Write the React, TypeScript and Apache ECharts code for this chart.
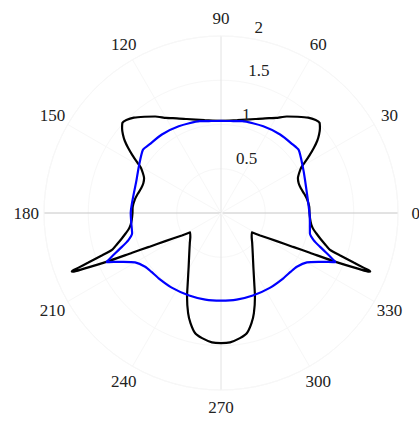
import { useEffect, useRef } from "react";
import * as echarts from "echarts";

// Polar frame geometry (pixels)
const CX = 221;
const CY = 213;
const R = 177;
const R_MAX = 2;

const angleTicks = [0, 30, 60, 90, 120, 150, 180, 210, 240, 270, 300, 330];
const radiusTicks = [0.5, 1, 1.5, 2];

// [angle in degrees, radius]
const blackCurve: [number, number][] = [
  [90, 1.04], [100, 1.065], [110, 1.13], [115, 1.18], [120, 1.24], [124.3, 1.32],
  [128.5, 1.39], [132.4, 1.46], [135.5, 1.5], [137.5, 1.51], [139.5, 1.47],
  [141.3, 1.42], [143.1, 1.36], [145, 1.28], [147, 1.19], [149, 1.1], [150.5, 1.04],
  [153, 0.99], [155.5, 0.955], [159, 0.94], [163, 0.945], [167, 0.965], [171, 0.985],
  [176, 1.0], [180, 1.0], [184, 1.01], [187.5, 1.03], [190, 1.06], [192, 1.1],
  [194.5, 1.16], [196.8, 1.23], [198.7, 1.3], [199.6, 1.43], [200.5, 1.6],
  [201.0, 1.73], [201.3, 1.81], [201.6, 1.8], [202.05, 1.69], [203.1, 1.4],
  [204.1, 1.1], [205.2, 0.9], [206.8, 0.705], [209.8, 0.51], [212.2, 0.41],
  [218, 0.44], [224, 0.49], [231.8, 0.58], [239, 0.71], [244.7, 0.88], [247.9, 1.02],
  [251.8, 1.19], [254.5, 1.29], [257.9, 1.39], [261.4, 1.43], [266, 1.465], [270, 1.47],
  [274, 1.465], [278.6, 1.43], [282.1, 1.39], [285.5, 1.29], [288.2, 1.19],
  [292.1, 1.02], [295.3, 0.88], [301, 0.71], [308.2, 0.58], [316, 0.49], [322, 0.44],
  [327.8, 0.41], [330.2, 0.51], [333.2, 0.705], [334.8, 0.9], [335.9, 1.1],
  [336.9, 1.4], [337.95, 1.69], [338.4, 1.8], [338.7, 1.81], [339.0, 1.73],
  [339.5, 1.6], [340.4, 1.43], [341.3, 1.3], [343.2, 1.23], [345.5, 1.16], [348, 1.1],
  [350, 1.06], [352.5, 1.03], [356, 1.01], [0, 1.0], [4, 1.0], [9, 0.985], [13, 0.965],
  [17, 0.945], [21, 0.94], [24.5, 0.955], [27, 0.99], [29.5, 1.04], [31, 1.1],
  [33, 1.19], [35, 1.28], [36.9, 1.36], [38.7, 1.42], [40.5, 1.47], [42.5, 1.51],
  [44.5, 1.5], [47.6, 1.46], [51.5, 1.39], [55.7, 1.32], [60, 1.24], [65, 1.18],
  [70, 1.13], [80, 1.065], [90, 1.04],
];

const blueCurve: [number, number][] = [
  [90, 1.04], [96, 1.045], [103, 1.065], [116, 1.09], [127, 1.11], [136, 1.12],
  [141, 1.135], [150, 1.07], [158.6, 1.025], [180, 1.02], [186, 1.02], [192.8, 1.03],
  [196.3, 1.09], [198.8, 1.18], [201.8, 1.33], [203.2, 1.41], [204.5, 1.33],
  [206.2, 1.25], [209.9, 1.12], [215.3, 1.05], [220, 1.03], [226.3, 1.02],
  [236.9, 1.01], [248.9, 1.0], [259.8, 0.995], [270, 0.99], [280.2, 0.995],
  [291.1, 1.0], [303.1, 1.01], [313.7, 1.02], [320, 1.03], [324.7, 1.05],
  [330.1, 1.12], [333.8, 1.25], [335.5, 1.33], [336.8, 1.41], [338.2, 1.33],
  [341.2, 1.18], [343.7, 1.09], [347.2, 1.03], [354, 1.01], [0, 1.0], [21.4, 1.02],
  [30, 1.065], [39, 1.13], [44, 1.12], [53, 1.11], [64, 1.09], [77, 1.065],
  [84, 1.045], [90, 1.04],
];

const labelText = {
  fontFamily: "Liberation Serif",
  fontSize: 17,
  fontWeight: "normal" as const,
  color: "#222222",
};

// Spokes: 0/180 in mid grey, 90/270 lighter, the rest barely visible
const spokeColors = angleTicks
  .concat([360])
  .map((a) => (a % 180 === 0 ? "#c6c6c6" : a % 90 === 0 ? "#e2e2e2" : "#f7f7f7"));

const rad = (d: number) => (d * Math.PI) / 180;

export default function App() {
  const ref = useRef<HTMLDivElement>(null);

  useEffect(() => {
    if (!ref.current) return;
    const chart = echarts.init(ref.current, null, { renderer: "svg" });

    // angle labels centred at 1.1 × outer radius
    const angleTitles = angleTicks.map((a) => ({
      text: String(a),
      left: CX + 1.1 * R * Math.cos(rad(a)),
      top: CY - 1.1 * R * Math.sin(rad(a)),
      textAlign: "center",
      textVerticalAlign: "middle",
      padding: 0,
      itemGap: 0,
      textStyle: labelText,
    }));

    // radius labels along the 82° ray, just outside each ring
    const radiusTitles = radiusTicks.map((v) => {
      const rp = ((v + 0.025) / R_MAX) * R;
      return {
        text: String(v),
        left: CX + rp * Math.cos(rad(82)) + 8.5,
        top: CY - rp * Math.sin(rad(82)),
        textAlign: "left",
        textVerticalAlign: "bottom",
        padding: 0,
        itemGap: 0,
        textStyle: labelText,
      };
    });

    chart.setOption({
      animation: false,
      backgroundColor: "#ffffff",
      title: [...angleTitles, ...radiusTitles],
      polar: { center: [CX, CY], radius: R },
      angleAxis: {
        type: "value",
        min: 0,
        max: 360,
        interval: 30,
        startAngle: 0,
        clockwise: false,
        axisLine: { show: true, lineStyle: { color: "#f7f7f7", width: 1 } },
        axisTick: { show: false },
        axisLabel: { show: false },
        splitLine: { show: true, lineStyle: { color: spokeColors, width: 1 } },
      },
      radiusAxis: {
        type: "value",
        min: 0,
        max: R_MAX,
        interval: 0.5,
        axisLine: { show: false },
        axisTick: { show: false },
        axisLabel: { show: false },
        splitLine: { show: true, lineStyle: { color: "#f7f7f7", width: 1 } },
      },
      series: [
        {
          type: "line",
          coordinateSystem: "polar",
          data: blackCurve.map(([a, r]) => [r, a]),
          symbol: "none",
          smooth: 0.2,
          lineStyle: { color: "#000000", width: 2.2 },
          z: 2,
        },
        {
          type: "line",
          coordinateSystem: "polar",
          data: blueCurve.map(([a, r]) => [r, a]),
          symbol: "none",
          smooth: 0.2,
          lineStyle: { color: "#0000ff", width: 2.2 },
          z: 3,
        },
      ],
    });

    return () => chart.dispose();
  }, []);

  return (
    <div
      ref={ref}
      style={{ position: "absolute", left: 0, top: 0, width: 419, height: 421 }}
    />
  );
}
